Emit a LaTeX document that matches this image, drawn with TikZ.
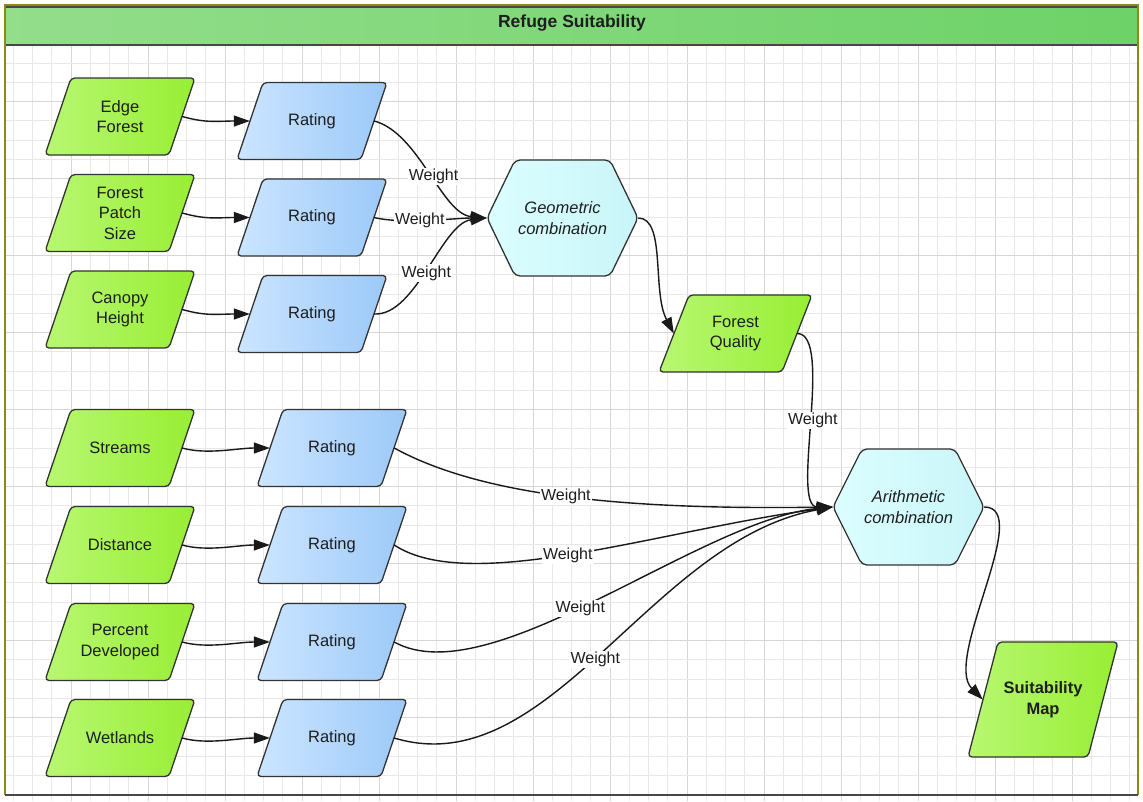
\documentclass[tikz,border=0pt]{standalone}
\usepackage{fontspec}
\setmainfont{Liberation Sans}
\usetikzlibrary{arrows.meta}
\definecolor{gA}{HTML}{B8F772}
\definecolor{gB}{HTML}{98EE34}
\definecolor{bA}{HTML}{CCE5FF}
\definecolor{bB}{HTML}{9CC9F8}
\definecolor{hA}{HTML}{DCFEFF}
\definecolor{hB}{HTML}{C9F5F8}
\definecolor{tA}{HTML}{93DD8B}
\definecolor{tB}{HTML}{6DD268}
\definecolor{edgec}{HTML}{333333}
\definecolor{txt}{HTML}{1E1E1E}
\definecolor{olivec}{HTML}{8C8A10}
\definecolor{gridminor}{HTML}{E8E8E8}
\definecolor{gridmajor}{HTML}{D6D6D6}
\newcommand\myfont{\fontsize{16.5}{20.5}\selectfont}
\newcommand\mylabfont{\fontsize{16}{19}\selectfont}
% #1 name, #2 cx, #3 cy, #4 overall width, #5 height, #6 slant, #7 shape style, #8 node opts, #9 text
\newcommand\parnode[9]{%
  \pgfmathsetmacro\pw{#4-#6}%
  \path[#7] (#2-#4/2+#6,#3-#5/2) -- (#2+#4/2,#3-#5/2) -- (#2+#4/2-#6,#3+#5/2)
     -- (#2-#4/2,#3+#5/2) -- cycle;
  \node[txtbox, minimum width=\pw pt, minimum height=#5pt, #8] (#1) at (#2,#3) {#9};}
% #1 name, #2 cx, #3 cy, #4 width, #5 height, #6 inset, #7 text
\newcommand\hexnode[7]{%
  \path[hexpath] (#2-#4/2,#3) -- (#2-#4/2+#6,#3-#5/2) -- (#2+#4/2-#6,#3-#5/2)
     -- (#2+#4/2,#3) -- (#2+#4/2-#6,#3+#5/2) -- (#2-#4/2+#6,#3+#5/2) -- cycle;
  \node[txtbox, minimum width=#4pt, minimum height=#5pt, font=\myfont\itshape] (#1) at (#2,#3) {#7};}
\begin{document}
\begin{tikzpicture}[x=1pt,y=-1pt,
  txtbox/.style={inner sep=0pt, align=center, font=\myfont, text=txt},
  greenp/.style={draw=edgec, line width=1.3pt, rounded corners=4pt, left color=gA, right color=gB},
  bluep/.style={draw=edgec, line width=1.3pt, rounded corners=4pt, left color=bA, right color=bB},
  hexpath/.style={draw=edgec, line width=1.3pt, rounded corners=5pt, left color=hA, right color=hB},
  conn/.style={line width=1.4pt, draw=black!90, -{Triangle[length=16pt,width=11pt]}},
  wlab/.style={fill=white, inner sep=1.2pt, font=\mylabfont, text=txt}
]
\useasboundingbox (0,0) rectangle (1143,801);
\fill[white] (0,0) rectangle (1143,801);
% grid
\foreach \i in {0,...,58} {
  \pgfmathsetmacro\xx{13.25+19.25*\i}
  \pgfmathtruncatemacro\mm{mod(\i,4)}
  \ifnum\mm=3
    \draw[gridmajor, line width=0.8pt] (\xx,45) -- (\xx,801);
  \else
    \draw[gridminor, line width=0.8pt] (\xx,45) -- (\xx,801);
  \fi
}
\foreach \j in {0,...,39} {
  \pgfmathsetmacro\yy{43.75+19.25*\j}
  \pgfmathtruncatemacro\mm{mod(\j,4)}
  \ifnum\mm=3
    \draw[gridmajor, line width=0.8pt] (5,\yy) -- (1138,\yy);
  \else
    \draw[gridminor, line width=0.8pt] (5,\yy) -- (1138,\yy);
  \fi
}
\fill[white] (1139,0) rectangle (1143,801);
% frame and title
\shade[left color=tA, right color=tB] (6,6) rectangle (1137,45);
\draw[edgec!90, line width=1.2pt] (6,7) -- (1137,7);
\draw[edgec!90, line width=1.4pt] (6,45) -- (1137,45);
\draw[olivec, line width=1.5pt] (5,795) -- (5,5) -- (1138,5) -- (1138,795);
\draw[edgec!90, line width=1.5pt] (5,795) -- (1138,795);
\node[font=\fontsize{17.5}{20}\selectfont\bfseries, text=txt] (title) at (572,23) {Refuge Suitability};

% input nodes
\parnode{ef}{120}{116.5}{150}{77}{26}{greenp}{}{Edge\\Forest}
\parnode{fps}{120}{213}{150}{77}{26}{greenp}{}{Forest\\Patch\\Size}
\parnode{ch}{120}{309.5}{150}{77}{26}{greenp}{}{Canopy\\Height}
\parnode{st}{120}{448}{150}{77}{26}{greenp}{}{Streams}
\parnode{di}{120}{545}{150}{77}{26}{greenp}{}{Distance}
\parnode{pd}{120}{642}{150}{77}{26}{greenp}{}{Percent\\Developed}
\parnode{wl}{120}{738}{150}{77}{26}{greenp}{}{Wetlands}

% rating nodes
\parnode{r1}{312}{121}{150}{77}{26}{bluep}{}{Rating}
\parnode{r2}{312}{217.5}{150}{77}{26}{bluep}{}{Rating}
\parnode{r3}{312}{314}{150}{77}{26}{bluep}{}{Rating}
\parnode{r4}{332}{448}{150}{77}{26}{bluep}{}{Rating}
\parnode{r5}{332}{545}{150}{77}{26}{bluep}{}{Rating}
\parnode{r6}{332}{642}{150}{77}{26}{bluep}{}{Rating}
\parnode{r7}{332}{738}{150}{77}{26}{bluep}{}{Rating}

% hexagons
\hexnode{geo}{562.5}{218}{151}{116}{28}{Geometric\\combination}
\hexnode{ari}{908.5}{507}{151}{116}{29}{Arithmetic\\combination}

% outputs
\parnode{fq}{735.5}{333.5}{153}{77}{30}{greenp}{}{Forest\\Quality}
\parnode{sm}{1043}{699.5}{150}{115}{30}{greenp}{font=\myfont\bfseries}{Suitability\\Map}

% input -> rating
\foreach \a/\b in {ef/r1,fps/r2,ch/r3,st/r4,di/r5,pd/r6,wl/r7} {
  \draw[conn] (\a.east) .. controls +(25,7) and +(-32,0) .. (\b.west);
}

% ratings -> geometric
\draw[conn] (r1.east) .. controls +(45,12) and +(-45,-4) .. (geo.west)
  node[wlab, pos=0.53] {Weight};
\draw[conn] (r2.east) .. controls +(28,7) and +(-30,0) .. (geo.west)
  node[wlab, pos=0.42] {Weight};
\draw[conn] (r3.east) .. controls +(42,2) and +(-45,5) .. (geo.west)
  node[wlab, pos=0.47] {Weight};

% geometric -> forest quality
\draw[conn] (geo.east) .. controls +(28,0) and +(-22,-42) .. (fq.west);

% forest quality -> arithmetic
\draw[conn] (fq.east) .. controls +(37,0) and +(-43,0) .. (ari.west)
  node[wlab, pos=0.5] {Weight};

% ratings -> arithmetic
\draw[conn] (r4.east) .. controls (480,495) and (620,510) .. (ari.west)
  node[wlab, pos=0.5] {Weight};
\draw[conn] (r5.east) .. controls (470,595) and (660,530) .. (ari.west)
  node[wlab, pos=0.48] {Weight};
\draw[conn] (r6.east) .. controls (490,695) and (700,520) .. (ari.west)
  node[wlab, pos=0.46] {Weight};
\draw[conn] (r7.east) .. controls (550,785) and (650,540) .. (ari.west)
  node[wlab, pos=0.48] {Weight};

% arithmetic -> suitability
\draw[conn] (ari.east) .. controls +(50,0) and +(-40,-40) .. (sm.west);
\end{tikzpicture}
\end{document}
